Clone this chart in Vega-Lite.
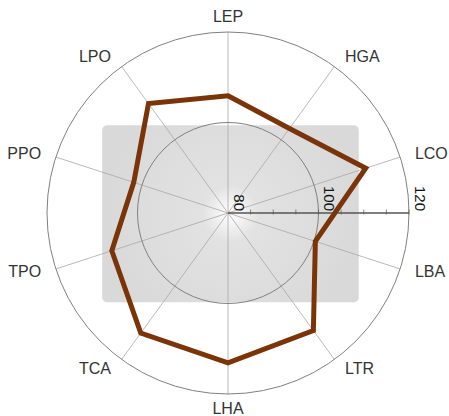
{
  "$schema": "https://vega.github.io/schema/vega-lite/v6.json",
  "width": 400,
  "height": 400,
  "autosize": {"type": "none"},
  "padding": {"left": 28, "top": 13, "right": 21, "bottom": 3},
  "background": "white",
  "config": {"view": {"stroke": null}, "font": "Liberation Sans"},
  "datasets": {
    "scores": [
      {"axis": "LEP", "order": 0, "value": 105.9},
      {"axis": "HGA", "order": 1, "value": 103.1},
      {"axis": "LCO", "order": 2, "value": 112.0},
      {"axis": "LBA", "order": 3, "value": 100.3},
      {"axis": "LTR", "order": 4, "value": 112.1},
      {"axis": "LHA", "order": 5, "value": 113.1},
      {"axis": "TCA", "order": 6, "value": 112.8},
      {"axis": "TPO", "order": 7, "value": 107.0},
      {"axis": "PPO", "order": 8, "value": 101.9},
      {"axis": "LPO", "order": 9, "value": 109.9}
    ],
    "rings": [{"level": 100}, {"level": 120}],
    "ticks": [{"v": 80}, {"v": 85}, {"v": 90}, {"v": 95}, {"v": 100}, {"v": 105}, {"v": 110}, {"v": 115}, {"v": 120}],
    "box": [{"left": -27.8, "right": 28.9, "bottom": -19.7, "top": 19.4}],
    "scaleAxis": [{"start": 80, "end": 120}]
  },
  "layer": [
    {
      "data": {"name": "box"},
      "mark": {
        "type": "rect",
        "cornerRadius": 5,
        "fill": {
          "gradient": "radial",
          "x1": 0.5, "y1": 0.5, "r1": 0,
          "x2": 0.5, "y2": 0.5, "r2": 0.5,
          "stops": [
            {"offset": 0, "color": "#ffffff"},
            {"offset": 0.22, "color": "#e2e2e2"},
            {"offset": 1, "color": "#d9d9d9"}
          ]
        }
      },
      "encoding": {
        "x": {"field": "left", "type": "quantitative", "scale": {"domain": [-44.2, 44.2], "nice": false, "zero": false}, "axis": null},
        "x2": {"field": "right"},
        "y": {"field": "bottom", "type": "quantitative", "scale": {"domain": [-44.2, 44.2], "nice": false, "zero": false}, "axis": null},
        "y2": {"field": "top"}
      }
    },
    {
      "data": {"name": "scores"},
      "transform": [
        {"calculate": "0", "as": "o"},
        {"calculate": "40*sin(datum.order*PI/5)", "as": "sx"},
        {"calculate": "40*cos(datum.order*PI/5)", "as": "sy"}
      ],
      "mark": {"type": "rule", "color": "#a8a8a8", "strokeWidth": 0.8},
      "encoding": {
        "x": {"field": "o", "type": "quantitative", "scale": {"domain": [-44.2, 44.2], "nice": false, "zero": false}, "axis": null},
        "y": {"field": "o", "type": "quantitative", "scale": {"domain": [-44.2, 44.2], "nice": false, "zero": false}, "axis": null},
        "x2": {"field": "sx"},
        "y2": {"field": "sy"}
      }
    },
    {
      "data": {"name": "rings"},
      "transform": [{"calculate": "datum.level-80", "as": "r"}, {"calculate": "0", "as": "o"}],
      "mark": {"type": "point", "shape": "circle", "filled": false, "color": "#808080", "strokeWidth": 1, "opacity": 1},
      "encoding": {
        "x": {"field": "o", "type": "quantitative", "scale": {"domain": [-44.2, 44.2], "nice": false, "zero": false}, "axis": null},
        "y": {"field": "o", "type": "quantitative", "scale": {"domain": [-44.2, 44.2], "nice": false, "zero": false}, "axis": null},
        "size": {"field": "r", "type": "quantitative", "scale": {"type": "pow", "exponent": 2, "domain": [0, 44.2], "range": [0, 160000], "zero": true, "nice": false}, "legend": null}
      }
    },
    {
      "data": {"name": "scaleAxis"},
      "transform": [
        {"calculate": "datum.start-80", "as": "s"},
        {"calculate": "datum.end-80", "as": "e"},
        {"calculate": "0", "as": "o"}
      ],
      "mark": {"type": "rule", "color": "#555555", "strokeWidth": 1.3},
      "encoding": {
        "x": {"field": "s", "type": "quantitative", "scale": {"domain": [-44.2, 44.2], "nice": false, "zero": false}, "axis": null},
        "x2": {"field": "e"},
        "y": {"field": "o", "type": "quantitative", "scale": {"domain": [-44.2, 44.2], "nice": false, "zero": false}, "axis": null}
      }
    },
    {
      "data": {"name": "ticks"},
      "transform": [{"filter": "datum.v > 80"}, {"calculate": "datum.v-80", "as": "t"}, {"calculate": "0", "as": "o"}],
      "mark": {"type": "tick", "orient": "vertical", "size": 5, "thickness": 1, "color": "#555555", "yOffset": -1},
      "encoding": {
        "x": {"field": "t", "type": "quantitative", "scale": {"domain": [-44.2, 44.2], "nice": false, "zero": false}, "axis": null},
        "y": {"field": "o", "type": "quantitative", "scale": {"domain": [-44.2, 44.2], "nice": false, "zero": false}, "axis": null}
      }
    },
    {
      "data": {"name": "ticks"},
      "transform": [{"filter": "datum.v % 20 == 0"}, {"calculate": "datum.v-80", "as": "t"}, {"calculate": "0", "as": "o"}],
      "mark": {"type": "text", "angle": 90, "align": "right", "baseline": "bottom", "dx": -2, "dy": -3, "fontSize": 15, "color": "#111111"},
      "encoding": {
        "x": {"field": "t", "type": "quantitative", "scale": {"domain": [-44.2, 44.2], "nice": false, "zero": false}, "axis": null},
        "y": {"field": "o", "type": "quantitative", "scale": {"domain": [-44.2, 44.2], "nice": false, "zero": false}, "axis": null},
        "text": {"field": "v", "type": "quantitative"}
      }
    },
    {
      "data": {"name": "scores"},
      "transform": [
        {"calculate": "datum.value-80", "as": "r"},
        {"calculate": "datum.r*sin(datum.order*PI/5)", "as": "px"},
        {"calculate": "datum.r*cos(datum.order*PI/5)", "as": "py"}
      ],
      "mark": {"type": "line", "interpolate": "linear-closed", "color": "#7a3408", "strokeWidth": 5, "strokeJoin": "miter"},
      "encoding": {
        "x": {"field": "px", "type": "quantitative", "scale": {"domain": [-44.2, 44.2], "nice": false, "zero": false}, "axis": null},
        "y": {"field": "py", "type": "quantitative", "scale": {"domain": [-44.2, 44.2], "nice": false, "zero": false}, "axis": null},
        "order": {"field": "order", "type": "quantitative"}
      }
    },
    {
      "data": {"name": "scores"},
      "transform": [
        {"filter": "datum.order >= 1 && datum.order <= 4"},
        {"calculate": "42.5*sin(datum.order*PI/5)", "as": "lx"},
        {"calculate": "42.5*cos(datum.order*PI/5)", "as": "ly"}
      ],
      "mark": {"type": "text", "align": "left", "baseline": "middle", "dx": 4, "fontSize": 16, "color": "#333333"},
      "encoding": {
        "x": {"field": "lx", "type": "quantitative", "scale": {"domain": [-44.2, 44.2], "nice": false, "zero": false}, "axis": null},
        "y": {"field": "ly", "type": "quantitative", "scale": {"domain": [-44.2, 44.2], "nice": false, "zero": false}, "axis": null},
        "text": {"field": "axis", "type": "nominal"}
      }
    },
    {
      "data": {"name": "scores"},
      "transform": [
        {"filter": "datum.order >= 6"},
        {"calculate": "42.5*sin(datum.order*PI/5)", "as": "lx"},
        {"calculate": "42.5*cos(datum.order*PI/5)", "as": "ly"}
      ],
      "mark": {"type": "text", "align": "right", "baseline": "middle", "dx": -4, "fontSize": 16, "color": "#333333"},
      "encoding": {
        "x": {"field": "lx", "type": "quantitative", "scale": {"domain": [-44.2, 44.2], "nice": false, "zero": false}, "axis": null},
        "y": {"field": "ly", "type": "quantitative", "scale": {"domain": [-44.2, 44.2], "nice": false, "zero": false}, "axis": null},
        "text": {"field": "axis", "type": "nominal"}
      }
    },
    {
      "data": {"name": "scores"},
      "transform": [
        {"filter": "datum.order == 0 || datum.order == 5"},
        {"calculate": "43.3*sin(datum.order*PI/5)", "as": "lx"},
        {"calculate": "43.3*cos(datum.order*PI/5)", "as": "ly"}
      ],
      "mark": {"type": "text", "align": "center", "baseline": "middle", "fontSize": 16, "color": "#333333"},
      "encoding": {
        "x": {"field": "lx", "type": "quantitative", "scale": {"domain": [-44.2, 44.2], "nice": false, "zero": false}, "axis": null},
        "y": {"field": "ly", "type": "quantitative", "scale": {"domain": [-44.2, 44.2], "nice": false, "zero": false}, "axis": null},
        "text": {"field": "axis", "type": "nominal"}
      }
    }
  ]
}
